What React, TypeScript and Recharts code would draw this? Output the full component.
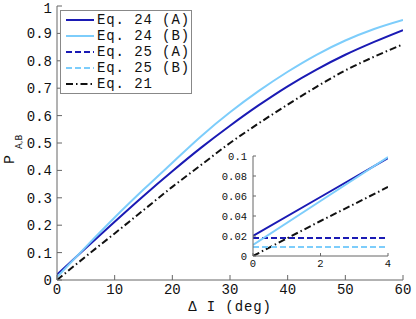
import { CartesianGrid, Label, Line, LineChart, XAxis, YAxis } from "recharts";

// main panel: ΔI in degrees, probability curves
const DEG = [0, 5, 10, 15, 20, 25, 30, 35, 40, 45, 50, 55, 60];
const EQ24_A = [0.02, 0.117, 0.213, 0.307, 0.397, 0.483, 0.563, 0.638, 0.707, 0.768, 0.822, 0.869, 0.912];
const EQ24_B = [0.011, 0.121, 0.228, 0.33, 0.428, 0.525, 0.612, 0.69, 0.76, 0.822, 0.874, 0.916, 0.949];
const EQ21 = [0, 0.086, 0.17, 0.255, 0.34, 0.42, 0.5, 0.572, 0.64, 0.705, 0.765, 0.815, 0.86];

// inset: zoom on the first few degrees
const INSET_DEG = [0, 2, 4];
const INSET_24_A = [0.02, 0.059, 0.098];
const INSET_24_B = [0.011, 0.055, 0.099];
const INSET_25_A = [0.018, 0.018, 0.018];
const INSET_25_B = [0.009, 0.009, 0.009];
const INSET_21 = [0, 0.035, 0.069];

const X_TICKS = [0, 10, 20, 30, 40, 50, 60];
const Y_TICKS = [0, 0.1, 0.2, 0.3, 0.4, 0.5, 0.6, 0.7, 0.8, 0.9, 1];
const INSET_X_TICKS = [0, 2, 4];
const INSET_Y_TICKS = [0, 0.02, 0.04, 0.06, 0.08, 0.1];

const LEGEND_NAMES = ["Eq. 24 (A)", "Eq. 24 (B)", "Eq. 25 (A)", "Eq. 25 (B)", "Eq. 21"];

const MONO = "'Liberation Mono', 'DejaVu Sans Mono', monospace";
const DARK = "#1a1ab4";
const LIGHT = "#7dcdfb";
const FRAME = "#666";
const DASH = "6 3";
const DASHDOT = "7 3 1.5 3";

const LEGEND_STYLES = [
  { color: DARK, dash: undefined },
  { color: LIGHT, dash: undefined },
  { color: DARK, dash: DASH },
  { color: LIGHT, dash: DASH },
  { color: "#111", dash: DASHDOT },
];

const mainData = DEG.map((x, i) => ({ x, a24: EQ24_A[i], b24: EQ24_B[i], e21: EQ21[i] }));
const insetData = INSET_DEG.map((x, i) => ({
  x,
  a24: INSET_24_A[i],
  b24: INSET_24_B[i],
  a25: INSET_25_A[i],
  b25: INSET_25_B[i],
  e21: INSET_21[i],
}));

const fmt = (v: number) => String(Number(v.toFixed(2)));

function LegendBox() {
  return (
    <div
      style={{
        position: "absolute",
        left: 60,
        top: 10,
        width: 125,
        height: 81,
        border: "1px solid #888",
        background: "#fff",
        padding: "1px 0 0 5px",
        boxSizing: "content-box",
        fontFamily: MONO,
        fontSize: 14,
        letterSpacing: 0.9,
        color: "#111",
      }}
    >
      {LEGEND_NAMES.map((name, i) => (
        <div key={name} style={{ display: "flex", alignItems: "center", height: 16, lineHeight: "16px" }}>
          <svg width={28} height={4} style={{ marginRight: 3 }}>
            <line
              x1={0}
              x2={28}
              y1={2}
              y2={2}
              stroke={LEGEND_STYLES[i].color}
              strokeWidth={2}
              strokeDasharray={LEGEND_STYLES[i].dash}
            />
          </svg>
          <span style={{ whiteSpace: "pre" }}>{name}</span>
        </div>
      ))}
    </div>
  );
}

export default function App() {
  const tickText = { fill: "#111", fontSize: 14, fontFamily: MONO };
  const insetText = { fill: "#111", fontSize: 10.5, fontFamily: MONO };
  return (
    <div style={{ position: "absolute", left: 0, top: 0, width: 416, height: 319, background: "#fff" }}>
      <LineChart width={416} height={319} data={mainData} margin={{ top: 6, right: 13, bottom: 0, left: 0 }}>
        <XAxis
          dataKey="x"
          type="number"
          domain={[0, 60]}
          ticks={X_TICKS}
          allowDataOverflow
          height={39}
          tickSize={-5}
          tickMargin={9.5}
          stroke={FRAME}
          tick={tickText}
        >
          <Label
            content={({ viewBox }: any) => (
              <text
                x={viewBox.x + viewBox.width / 2}
                y={viewBox.y + 31}
                textAnchor="middle"
                fontFamily={MONO}
                fontSize={14}
                letterSpacing={0.9}
                fill="#111"
              >
                Δ I (deg)
              </text>
            )}
          />
        </XAxis>
        <XAxis
          xAxisId="top"
          orientation="top"
          dataKey="x"
          type="number"
          domain={[0, 60]}
          ticks={X_TICKS}
          allowDataOverflow
          height={0}
          tickSize={-5}
          tick={false}
          stroke={FRAME}
        />
        <YAxis
          type="number"
          domain={[0, 1]}
          ticks={Y_TICKS}
          allowDataOverflow
          width={57}
          tickSize={-5}
          tickMargin={10}
          stroke={FRAME}
          tick={tickText}
          tickFormatter={fmt}
        >
          <Label
            content={() => (
              <text transform="rotate(-90, 14, 164)" x={14} y={164} fontFamily={MONO} fontSize={15} fill="#111">
                P
                <tspan dx={6} dy={8} fontSize={8.5} fontFamily="'DejaVu Sans', sans-serif">
                  A,B
                </tspan>
              </text>
            )}
          />
        </YAxis>
        <YAxis
          yAxisId="right"
          orientation="right"
          type="number"
          domain={[0, 1]}
          ticks={Y_TICKS}
          allowDataOverflow
          width={0}
          tickSize={-5}
          tick={false}
          stroke={FRAME}
        />
        <Line type="monotone" dataKey="e21" stroke="#111" strokeWidth={2} strokeDasharray={DASHDOT} dot={false} isAnimationActive={false} />
        <Line type="monotone" dataKey="a24" stroke={DARK} strokeWidth={2} dot={false} isAnimationActive={false} />
        <Line type="monotone" dataKey="b24" stroke={LIGHT} strokeWidth={2} dot={false} isAnimationActive={false} />
      </LineChart>

      <LegendBox />

      <div style={{ position: "absolute", left: 215, top: 148 }}>
        <LineChart width={180} height={125} data={insetData} margin={{ top: 8, right: 7, bottom: 0, left: 8 }}>
          <CartesianGrid fill="#fff" horizontal={false} vertical={false} />
          <XAxis
            dataKey="x"
            type="number"
            domain={[0, 4]}
            ticks={INSET_X_TICKS}
            allowDataOverflow
            height={17}
            tickSize={-3}
            tickMargin={7}
            stroke={FRAME}
            tick={insetText}
          />
          <XAxis
            xAxisId="top"
            orientation="top"
            dataKey="x"
            type="number"
            domain={[0, 4]}
            ticks={INSET_X_TICKS}
            allowDataOverflow
            height={0}
            tickSize={-3}
            tick={false}
            stroke={FRAME}
          />
          <YAxis
            type="number"
            domain={[0, 0.1]}
            ticks={INSET_Y_TICKS}
            allowDataOverflow
            width={30}
            tickSize={-3}
            tickMargin={9}
            stroke={FRAME}
            tick={insetText}
            tickFormatter={fmt}
          />
          <YAxis
            yAxisId="right"
            orientation="right"
            type="number"
            domain={[0, 0.1]}
            ticks={INSET_Y_TICKS}
            allowDataOverflow
            width={0}
            tickSize={-3}
            tick={false}
            stroke={FRAME}
          />
          <Line type="linear" dataKey="e21" stroke="#111" strokeWidth={2} strokeDasharray={DASHDOT} dot={false} isAnimationActive={false} />
          <Line type="linear" dataKey="a25" stroke={DARK} strokeWidth={2} strokeDasharray={DASH} dot={false} isAnimationActive={false} />
          <Line type="linear" dataKey="b25" stroke={LIGHT} strokeWidth={2} strokeDasharray={DASH} dot={false} isAnimationActive={false} />
          <Line type="linear" dataKey="a24" stroke={DARK} strokeWidth={2} dot={false} isAnimationActive={false} />
          <Line type="linear" dataKey="b24" stroke={LIGHT} strokeWidth={2} dot={false} isAnimationActive={false} />
        </LineChart>
      </div>
    </div>
  );
}
